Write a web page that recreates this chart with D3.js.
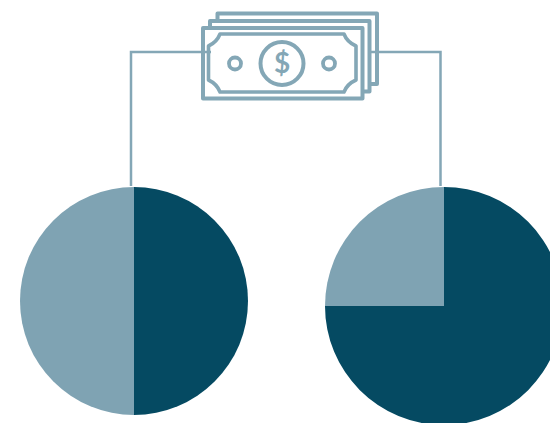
<!DOCTYPE html>
<html>
<head>
<meta charset="utf-8">
<style>
html, body { margin: 0; padding: 0; background: #fff; overflow: hidden; }
svg { display: block; }
</style>
<script src="https://cdn.jsdelivr.net/npm/d3@7"></script>
</head>
<body>
<svg id="chart" width="550" height="423"></svg>
<script>
// Split of each pie, listed clockwise from twelve o'clock.
const segments = ["primary", "secondary"];
const leftShares = [50, 50];
const rightShares = [75, 25];
const palette = ["#054a62", "#7fa3b3"];
const lineColor = "#84a7b6";

const svg = d3.select("#chart");
const color = d3.scaleOrdinal().domain(segments).range(palette);
const pie = d3.pie().sort(null);

function drawPie(shares, cx, cy, radius) {
  const arc = d3.arc().innerRadius(0).outerRadius(radius);
  svg.append("g")
    .attr("transform", `translate(${cx},${cy})`)
    .selectAll("path")
    .data(pie(shares))
    .join("path")
    .attr("d", arc)
    .attr("fill", (d, i) => color(segments[i]));
}

// Connectors running from the banknotes down to each pie.
const connector = d3.line();
[[[211, 52], [131, 52], [131, 186]], [[370, 52], [440.5, 52], [440.5, 186]]].forEach(pts => {
  svg.append("path")
    .attr("d", connector(pts))
    .attr("fill", "none")
    .attr("stroke", lineColor)
    .attr("stroke-width", 2.5);
});

// Banknote stack, back to front.
const money = svg.append("g")
  .attr("fill", "none")
  .attr("stroke", lineColor)
  .attr("stroke-width", 4)
  .attr("stroke-linejoin", "round");

money.append("path").attr("d", "M217.5 21V13.5H377V84H369");
money.append("path").attr("d", "M210 28V21H369.5V91.5H362");
money.append("rect").attr("x", 203).attr("y", 28).attr("width", 159.5).attr("height", 70.5);

// Inner engraved border with concave corners.
money.append("path")
  .attr("stroke-width", 3.6)
  .attr("d", "M220 34H344Q347 42 356 46V80Q347 84 344 92H220Q217 84 208.5 80V46Q217 42 220 34Z");

money.append("circle").attr("cx", 282).attr("cy", 63.5).attr("r", 21.5).attr("stroke-width", 4);
money.append("circle").attr("cx", 235).attr("cy", 63.5).attr("r", 6).attr("stroke-width", 3.8);
money.append("circle").attr("cx", 329).attr("cy", 63.5).attr("r", 6).attr("stroke-width", 3.8);

svg.append("text")
  .attr("x", 282)
  .attr("y", 73)
  .attr("text-anchor", "middle")
  .attr("font-family", "Lato, sans-serif")
  .attr("font-weight", 700)
  .attr("font-size", 28)
  .attr("fill", lineColor)
  .text("$");

drawPie(leftShares, 134, 301, 114);
drawPie(rightShares, 444, 306, 119);
</script>
</body>
</html>
